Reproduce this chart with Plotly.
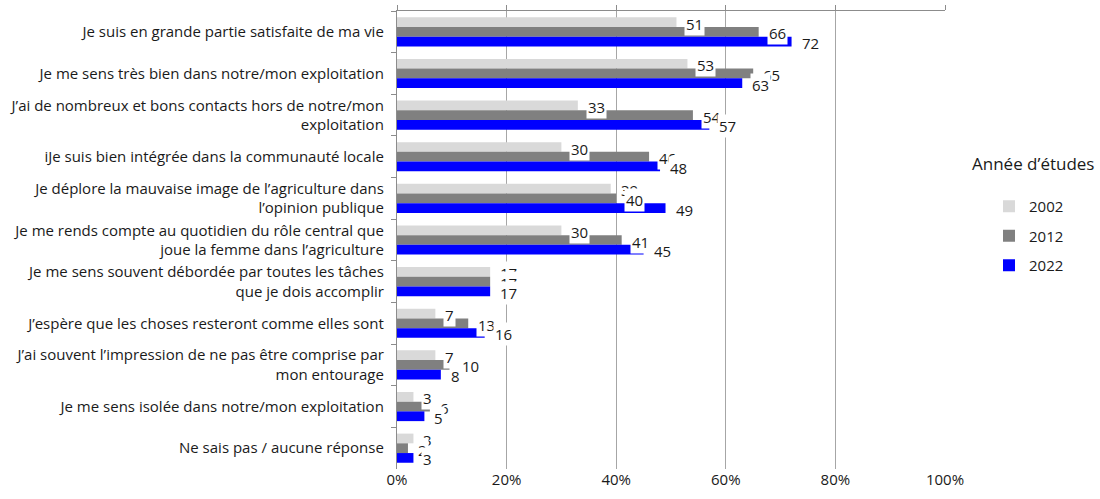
import plotly.graph_objects as go

categories = [
    "Je suis en grande partie satisfaite de ma vie",
    "Je me sens très bien dans notre/mon exploitation",
    "J’ai de nombreux et bons contacts hors de notre/mon<br>exploitation",
    "iJe suis bien intégrée dans la communauté locale",
    "Je déplore la mauvaise image de l’agriculture dans<br>l’opinion publique",
    "Je me rends compte au quotidien du rôle central que<br>joue la femme dans l’agriculture",
    "Je me sens souvent débordée par toutes les tâches<br>que je dois accomplir",
    "J’espère que les choses resteront comme elles sont",
    "J’ai souvent l’impression de ne pas être comprise par<br>mon entourage",
    "Je me sens isolée dans notre/mon exploitation",
    "Ne sais pas / aucune réponse",
]
years = ["2002", "2012", "2022"]
values_2002 = [51, 53, 33, 30, 39, 30, 17, 7, 7, 3, 3]
values_2012 = [66, 65, 54, 46, 40, 41, 17, 13, 10, 6, 2]
values_2022 = [72, 63, 57, 48, 49, 45, 17, 16, 8, 5, 3]
x_ticks = [0, 20, 40, 60, 80, 100]
x_tick_labels = ["0%", "20%", "40%", "60%", "80%", "100%"]

series = [values_2002, values_2012, values_2022]
colors = ["#d9d9d9", "#808080", "#0000ff"]

FONT = "Open Sans"
TXT = "#1a1a1a"
AX = "#8c8c8c"

# plot area in pixels
L, R, T, B = 397, 945, 11, 469
W, H = 1100, 499
BARGAP = 0.30

fig = go.Figure()

for name, vals, col in zip(years, series, colors):
    fig.add_trace(go.Bar(
        y=categories, x=vals, name=name, orientation="h",
        marker=dict(color=col, line=dict(width=0)),
        legendgroup=name, hoverinfo="x+y",
    ))

# invisible trace carrying the top axis line
fig.add_trace(go.Scatter(x=[0, 100], y=[categories[0], categories[0]], xaxis="x2",
                         mode="markers", marker=dict(opacity=0), showlegend=False,
                         hoverinfo="skip"))

# value labels on white boxes beside each bar end
cat_px = (B - T) / len(categories)
bar_px = cat_px * (1 - BARGAP) / 3
shifts = [bar_px - 1.5, -1.5, -bar_px - 1.5]
for vals, sh in zip(series, shifts):
    for cat, v in zip(categories, vals):
        fig.add_annotation(
            x=v, y=cat, xref="x", yref="y", text=str(v), showarrow=False,
            xanchor="left", yanchor="middle", xshift=8, yshift=sh,
            bgcolor="white", borderpad=1,
            font=dict(family=FONT, size=15, color=TXT),
        )

# legend heading
fig.add_annotation(
    x=(970 - L) / (R - L), y=(B - 163) / (B - T), xref="paper", yref="paper",
    text="Année d’études", showarrow=False, xanchor="left", yanchor="middle",
    font=dict(family=FONT, size=17, color=TXT),
)

fig.update_layout(
    width=W, height=H,
    margin=dict(l=L, r=W - R, t=T, b=H - B),
    paper_bgcolor="white", plot_bgcolor="white",
    barmode="group", bargap=BARGAP, bargroupgap=0,
    font=dict(family=FONT, size=15, color=TXT),
    showlegend=True,
    legend=dict(
        x=(989 - L) / (R - L), y=(B - 190) / (B - T),
        xanchor="left", yanchor="top",
        font=dict(family=FONT, size=15, color=TXT),
        tracegroupgap=7, bgcolor="rgba(0,0,0,0)",
    ),
    xaxis=dict(
        range=[0, 100], tickvals=x_ticks, ticktext=x_tick_labels,
        showgrid=True, gridcolor="#a6a6a6", gridwidth=1.3,
        showline=False, zeroline=False, ticks="", automargin=False,
        tickfont=dict(family=FONT, size=15, color=TXT),
    ),
    xaxis2=dict(
        range=[0, 100], overlaying="x", side="top", tickvals=x_ticks,
        showticklabels=False, showgrid=False, zeroline=False, automargin=False,
        showline=True, linecolor=AX, linewidth=1.3,
        ticks="outside", ticklen=5, tickcolor=AX, tickwidth=1.3,
    ),
    yaxis=dict(
        range=[len(categories) - 0.5, -0.5], automargin=False,
        categoryorder="array", categoryarray=categories,
        showline=True, linecolor=AX, linewidth=1.3,
        ticks="outside", tickson="boundaries", ticklen=5,
        tickcolor=AX, tickwidth=1.3,
        ticklabelstandoff=9,
        tickfont=dict(family=FONT, size=15, color=TXT),
        showgrid=False, zeroline=False,
    ),
)

fig.write_html("out.html")
